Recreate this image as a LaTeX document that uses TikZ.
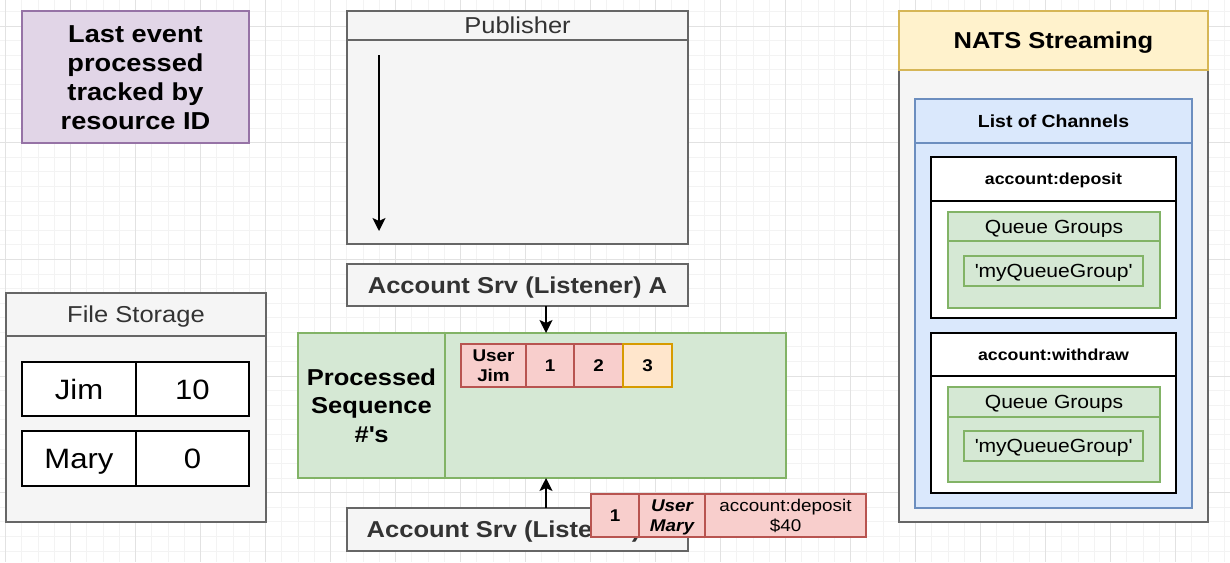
\documentclass[tikz,border=0pt]{standalone}
\usepackage{fontspec}
\setmainfont{Liberation Sans}[FakeStretch=1.11]
\usetikzlibrary{arrows.meta}

\definecolor{gridminor}{HTML}{F3F3F3}
\definecolor{gridmajor}{HTML}{E2E2E2}
\definecolor{grayfill}{HTML}{F5F5F5}
\definecolor{grayline}{HTML}{666666}
\definecolor{graytext}{HTML}{333333}
\definecolor{purplefill}{HTML}{E1D5E7}
\definecolor{purpleline}{HTML}{9673A6}
\definecolor{greenfill}{HTML}{D5E8D4}
\definecolor{greenline}{HTML}{82B366}
\definecolor{redfill}{HTML}{F8CECC}
\definecolor{redline}{HTML}{B85450}
\definecolor{orangefill}{HTML}{FFE6CC}
\definecolor{orangeline}{HTML}{D79B00}
\definecolor{yellowfill}{HTML}{FFF2CC}
\definecolor{yellowline}{HTML}{D6B656}
\definecolor{bluefill}{HTML}{DAE8FC}
\definecolor{blueline}{HTML}{6C8EBF}

\newcommand{\fs}[2]{\fontsize{#1}{#2}\selectfont}

\tikzset{
  rect/.style={draw, anchor=north west, inner sep=0pt, outer sep=0pt, line width=1.4pt, align=center},
  % vertical centring on the cap height: text height = cap height (+ extra lines), no depth
  th/.style={text height=#1, text depth=0pt},
  graybox/.style={rect, fill=grayfill, draw=grayline, text=graytext},
  purplebox/.style={rect, fill=purplefill, draw=purpleline},
  greenbox/.style={rect, fill=greenfill, draw=greenline},
  redbox/.style={rect, fill=redfill, draw=redline},
  orangebox/.style={rect, fill=orangefill, draw=orangeline},
  yellowbox/.style={rect, fill=yellowfill, draw=yellowline},
  bluebox/.style={rect, fill=bluefill, draw=blueline},
  whitebox/.style={rect, fill=white, draw=black},
  arr/.style={line width=1.7pt, -{Stealth[length=13pt,width=13pt,inset=3pt]}},
}

\begin{document}
\begin{tikzpicture}[x=1pt, y=-1pt]
\useasboundingbox (0,0) rectangle (1230,562);

% canvas grid
\fill[white] (0,0) rectangle (1230,562);
\foreach \k in {0,...,75} \draw[gridminor, line width=0.8pt] ({5.5+\k*16.25},0) -- ({5.5+\k*16.25},562);
\foreach \k in {0,...,37} \draw[gridminor, line width=0.8pt] (0,{11.5+\k*14.58}) -- (1230,{11.5+\k*14.58});
\foreach \k in {0,...,18} \draw[gridmajor, line width=0.9pt] ({5.5+\k*65},0) -- ({5.5+\k*65},562);
\foreach \k in {0,...,4} \draw[gridmajor, line width=0.9pt] (0,{26.1+\k*116.64}) -- (1230,{26.1+\k*116.64});

% legend note
\node[purplebox, minimum width=227, minimum height=132, font=\bfseries\fs{24.5}{29}, th=104.5pt]
  (note) at (22,11) {Last event\\processed\\tracked by\\resource ID};

% publisher
\node[graybox, minimum width=341, minimum height=204] (pubbody) at (347,40) {};
\node[graybox, minimum width=341, minimum height=29, font=\fs{23}{27}, th=16.5pt] (pubhead) at (347,11) {Publisher};
\coordinate (pubstart) at (379,55);
\coordinate (pubend) at (379,231);
\draw[arr] (pubstart) -- (pubend);

% listener A
\node[graybox, minimum width=341, minimum height=42, font=\bfseries\fs{23}{27}, th=16.5pt] (lisA) at (347,264) {Account Srv (Listener) A};

% processed sequence numbers
\node[greenbox, minimum width=147, minimum height=145, font=\bfseries\fs{23}{28.5}, th=73.5pt]
  (seqL) at (298,333) {Processed\\Sequence\\\#\textquotesingle s};
\node[greenbox, minimum width=341, minimum height=145] (seqR) at (445,333) {};

\node[redbox, minimum width=65, minimum height=43, font=\bfseries\fs{17}{20}, th=32.2pt] (cjim) at (461,344) {User\\Jim};
\node[redbox, minimum width=48, minimum height=43, font=\bfseries\fs{17}{20}, th=12.2pt] (c1) at (526,344) {1};
\node[redbox, minimum width=49, minimum height=43, font=\bfseries\fs{17}{20}, th=12.2pt] (c2) at (574,344) {2};
\node[orangebox, minimum width=49, minimum height=43, font=\bfseries\fs{17}{20}, th=12.2pt] (c3) at (623,344) {3};

% listener B
\node[graybox, minimum width=341, minimum height=43] (lisB) at (347,508) {};
\node[anchor=west, inner sep=0pt, text=graytext, font=\bfseries\fs{23}{27}, th=16.5pt]
  (lisBtext) at (366.5,529.5) {Account Srv (Listener)};

% connectors
\coordinate (aout) at (546,306);
\draw[arr] (aout) -- (aout |- seqR.north);
\coordinate (bout) at (546,508);
\draw[arr] (bout) -- (bout |- seqR.south);

% incoming event
\node[redbox, minimum width=48, minimum height=43, font=\bfseries\fs{17}{20}, th=12.2pt] (e1) at (591,494) {1};
\node[redbox, minimum width=66, minimum height=43, font=\bfseries\itshape\fs{17}{20}, th=32.2pt] (emary) at (639,494) {User\\Mary};
\node[redbox, minimum width=161, minimum height=43, font=\fs{17}{20}, th=32.2pt] (edep) at (705,494) {account:deposit\\\$40};

% file storage
\node[graybox, minimum width=260, minimum height=186] (fsbody) at (6,336) {};
\node[graybox, minimum width=260, minimum height=43, font=\fs{23}{27}, th=16.5pt] (fshead) at (6,293) {File Storage};
\node[whitebox, minimum width=114, minimum height=54, font=\fs{28}{32}, th=20pt] (fjim) at (22,362) {Jim};
\node[whitebox, minimum width=113, minimum height=54, font=\fs{28}{32}, th=20pt] (fjimv) at (136,362) {10};
\node[whitebox, minimum width=114, minimum height=55, font=\fs{28}{32}, th=20pt] (fmary) at (22,431) {Mary};
\node[whitebox, minimum width=113, minimum height=55, font=\fs{28}{32}, th=20pt] (fmaryv) at (136,431) {0};

% NATS streaming server
\node[graybox, minimum width=309, minimum height=452] (natsbody) at (899,70) {};
\node[yellowbox, minimum width=309, minimum height=59, font=\bfseries\fs{23}{27}, th=16.5pt] (natshead) at (899,11) {NATS Streaming};

\node[bluebox, minimum width=277, minimum height=365] (chbody) at (915,143) {};
\node[bluebox, minimum width=277, minimum height=44, font=\bfseries\fs{17.5}{21}, th=12.5pt] (chhead) at (915,99) {List of Channels};

\node[whitebox, minimum width=245, minimum height=117] (depbody) at (931,201) {};
\node[whitebox, minimum width=245, minimum height=44, font=\bfseries\fs{16}{20}, th=11.5pt] (dephead) at (931,157) {account:deposit};
\node[greenbox, minimum width=212, minimum height=67] (qg1body) at (948,241) {};
\node[greenbox, minimum width=212, minimum height=29, font=\fs{19}{22}, th=13.6pt] (qg1head) at (948,212) {Queue Groups};
\node[greenbox, minimum width=179, minimum height=30, font=\fs{19}{22}, th=13.6pt] (qg1name) at (964,256) {\textquotesingle myQueueGroup\textquotesingle};

\node[whitebox, minimum width=245, minimum height=117] (wdbody) at (931,376) {};
\node[whitebox, minimum width=245, minimum height=43, font=\bfseries\fs{16}{20}, th=11.5pt] (wdhead) at (931,333) {account:withdraw};
\node[greenbox, minimum width=212, minimum height=65] (qg2body) at (948,417) {};
\node[greenbox, minimum width=212, minimum height=30, font=\fs{19}{22}, th=13.6pt] (qg2head) at (948,387) {Queue Groups};
\node[greenbox, minimum width=179, minimum height=30, font=\fs{19}{22}, th=13.6pt] (qg2name) at (964,431) {\textquotesingle myQueueGroup\textquotesingle};
\end{tikzpicture}
\end{document}
